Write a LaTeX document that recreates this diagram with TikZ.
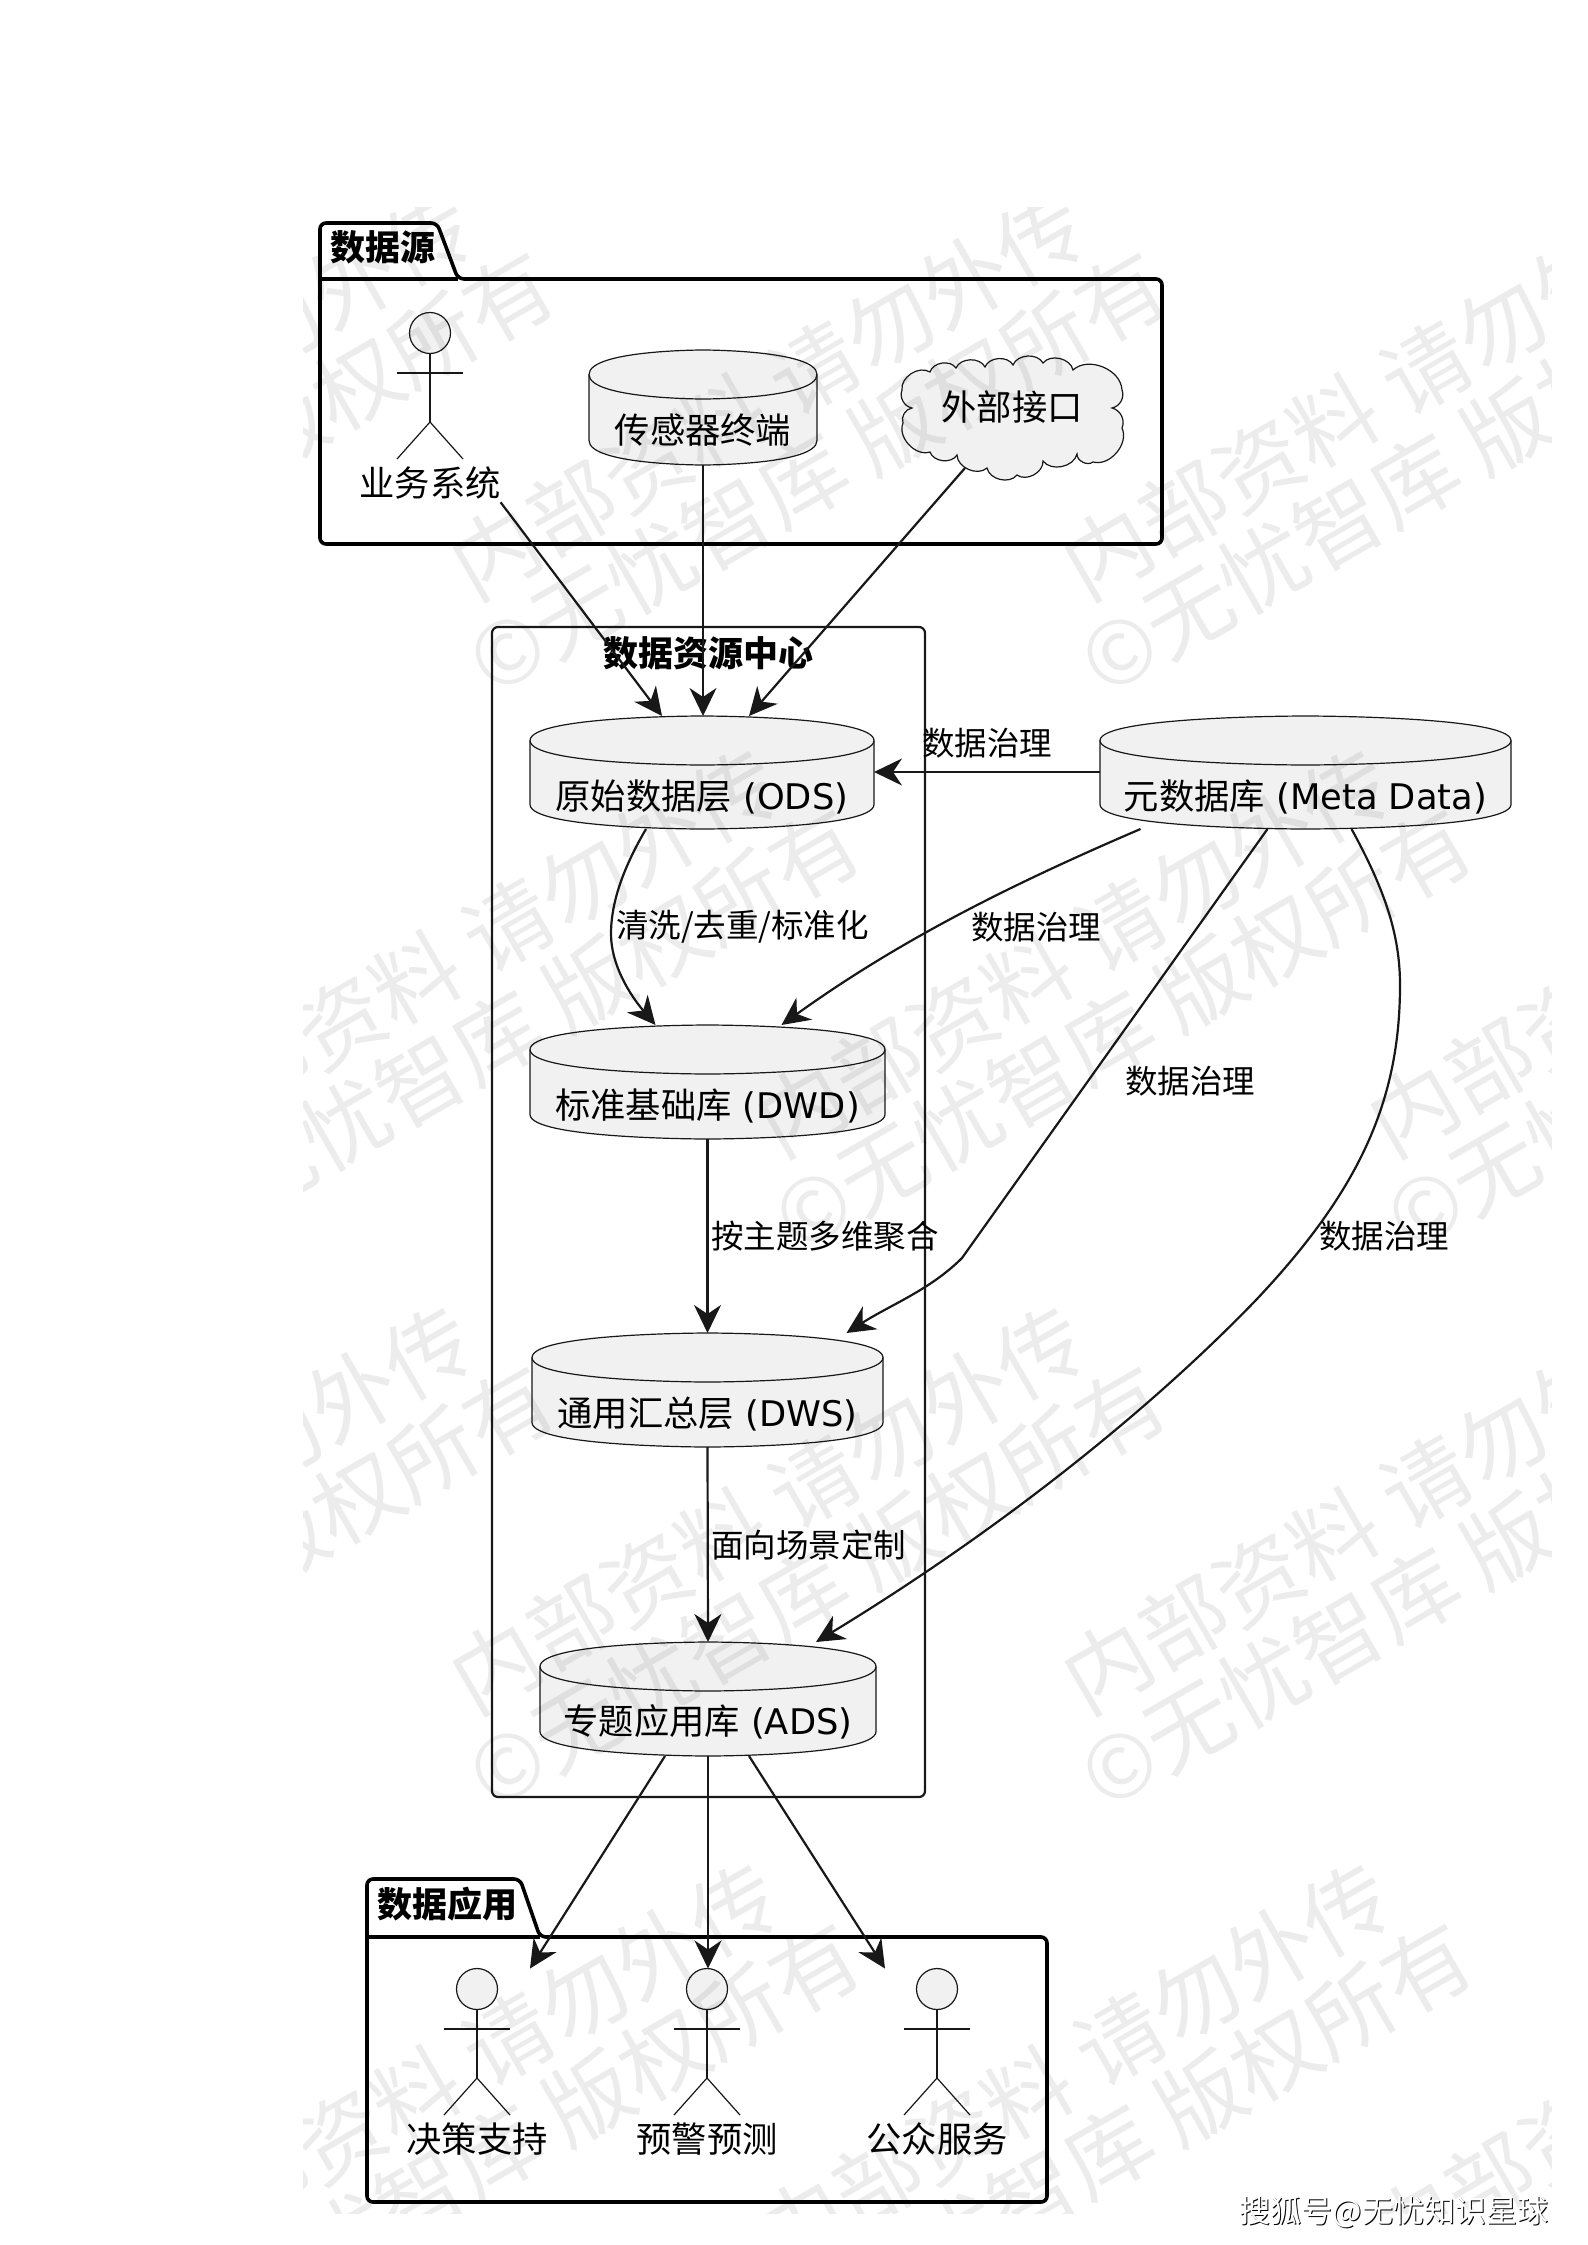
\documentclass[tikz,border=0pt]{standalone}
\usepackage{fontspec}
\setmainfont{DejaVu Sans}
\newfontfamily\cjkf{Noto Sans CJK SC}
\usetikzlibrary{arrows.meta,calc,shapes.geometric}
\definecolor{ink}{HTML}{181818}
\definecolor{dbfill}{HTML}{F1F1F1}
\newcommand\fsz[1]{\fontsize{#1}{#1}\selectfont}
\tikzset{
  every node/.style={inner sep=0pt,outer sep=0pt},
  txt/.style={font=\fsz{35.3},text=black},
  pkgtitle/.style={font=\fsz{35}\bfseries,text=black},
  lbl/.style={font=\fsz{32.5},text=black},
  wm/.style={font=\fsz{87}\cjkf,text=black,opacity=0.075,rotate=30,anchor=base},
  dbline/.style={draw=ink,line width=1.2pt,fill=dbfill},
  holder/.style={draw=none,fill=none,rectangle},
  flow/.style={draw=ink,line width=2.2pt,-{Stealth[length=28pt,width=27pt,inset=9pt]}},
  pkg/.style={draw=black,line width=3.6pt,rounded corners=6pt,line join=round},
  actorline/.style={draw=ink,line width=1.2pt},
  actorhead/.style={ellipse,draw=ink,line width=1.2pt,fill=dbfill,minimum width=41pt,minimum height=41pt},
}
% name, x1, x2, top, bottom, text y, text
\newcommand\dbcyl[7]{%
  \pgfmathsetmacro\xc{(#2+#3)/2}%
  \pgfmathsetmacro\ym{(#4+#5)/2}%
  \pgfmathsetmacro\hh{#5-#4}%
  \pgfmathsetmacro\ww{#3-#2}%
  \pgfmathsetmacro\ya{#4+24.5}%
  \pgfmathsetmacro\yb{#4+49}%
  \pgfmathsetmacro\yc{#5-24.5}%
  \draw[dbline] (#2,\ya) .. controls (#2,#4) and (\xc,#4) .. (\xc,#4) .. controls (\xc,#4) and (#3,#4) .. (#3,\ya)
     -- (#3,\yc) .. controls (#3,#5) and (\xc,#5) .. (\xc,#5) .. controls (\xc,#5) and (#2,#5) .. (#2,\yc) -- cycle;
  \draw[dbline,fill=none] (#2,\ya) .. controls (#2,\yb) and (\xc,\yb) .. (\xc,\yb) .. controls (\xc,\yb) and (#3,\yb) .. (#3,\ya);
  \node[holder,minimum width=\ww pt,minimum height=\hh pt] (#1) at (\xc,\ym) {};
  \node[txt] (#1t) at (\xc,#6) {#7};
}
% name, x, head y, text
\newcommand\actorman[4]{%
  \node[actorhead] (#1) at (#2,#3) {};
  \pgfmathsetmacro\al{#2-33}\pgfmathsetmacro\ar{#2+33}%
  \pgfmathsetmacro\ay{#3+40}\pgfmathsetmacro\as{#3+89}\pgfmathsetmacro\af{#3+126}\pgfmathsetmacro\at{#3+150}%
  \draw[actorline] (#1.south) -- (#2,\as);
  \draw[actorline] (\al,\ay) -- (\ar,\ay);
  \draw[actorline] (\al,\af) -- (#2,\as) -- (\ar,\af);
  \node[txt] (#1t) at (#2,\at) {\cjkf #4};
}
\begin{document}
\begin{tikzpicture}[x=1pt,y=-1pt]
\path[use as bounding box,fill=white] (0,0) rectangle (1587,2245);

% package: data sources
\draw[pkg] (320,279) -- (320,223) -- (437,223) -- (458,279) -- (1162,279) -- (1162,544) -- (320,544) -- cycle;
\draw[black,line width=3.6pt] (320,279) -- (458,279);
\node[pkgtitle] (srcT) at (383,247) {\cjkf 数据源};

% centre frame
\draw[draw=ink,line width=2.2pt,rounded corners=6pt,fill=none] (492,627) rectangle (925,1797);

\actorman{biz}{430}{333}{业务系统}
\dbcyl{sensor}{589}{817}{350}{465}{430}{\cjkf 传感器终端}

% cloud
\draw[dbline] (902,390) to[bend left=65] (930,372) to[bend left=65] (956,368) to[bend left=65] (985,367)
  to[bend left=65] (1013,365) to[bend left=65] (1043,363) to[bend left=65] (1073,370) to[bend left=65] (1122,390)
  to[bend left=50] (1112,408) to[bend left=50] (1122,428) to[bend left=65] (1093,462) to[bend left=65] (1077,454)
  to[bend left=65] (1043,461) to[bend left=65] (1017,475) to[bend left=65] (987,468) to[bend left=65] (957,455)
  to[bend left=65] (930,452) to[bend left=65] (903,423) to[bend left=50] (912,408) to[bend left=50] (902,390) -- cycle;
\node[txt] (ext) at (1012,407) {\cjkf 外部接口};

\node[pkgtitle] (dcT) at (708,653) {\cjkf 数据资源中心};

\dbcyl{ods}{530}{874}{716}{829}{797}{{\cjkf 原始数据层} (ODS)}
\dbcyl{dwd}{530}{885}{1025}{1139}{1106}{{\cjkf 标准基础库} (DWD)}
\dbcyl{dws}{532}{883}{1333}{1447}{1414}{{\cjkf 通用汇总层} (DWS)}
\dbcyl{ads}{540}{876}{1642}{1756}{1722}{{\cjkf 专题应用库} (ADS)}
\dbcyl{meta}{1100}{1511}{716}{829}{797}{{\cjkf 元数据库} (Meta Data)}

% package: applications
\draw[pkg] (367,1937) -- (367,1879) -- (520,1879) -- (540,1937) -- (1047,1937) -- (1047,2202) -- (367,2202) -- cycle;
\draw[black,line width=3.6pt] (367,1937) -- (540,1937);
\node[pkgtitle] (appT) at (447,1904) {\cjkf 数据应用};
\actorman{dec}{477}{1989}{决策支持}
\actorman{warn}{707}{1989}{预警预测}
\actorman{pub}{937}{1989}{公众服务}

% connectors
\draw[flow] (bizt.south east) ++(0,3) -- ([xshift=-40pt]ods.north);
\draw[flow] (sensor.south) -- ([xshift=1pt]ods.north);
\draw[flow] ([xshift=-47pt,yshift=-61pt]ext.center) -- ([xshift=47pt]ods.north);
\draw[flow] ([yshift=-56pt]meta.north west) -- ([yshift=-56pt]ods.north east);
\node[lbl] (l1) at (987,743) {\cjkf 数据治理};

\draw[flow] ([xshift=-56pt]ods.south) .. controls (625,865) and (611,900) .. (611,934) .. controls (611,965) and (630,995) .. ([xshift=-52pt]dwd.north);
\node[lbl,anchor=west] (l2) at (616,927) {\cjkf 清洗/去重/标准化};

\draw[flow] ([xshift=-165pt]meta.south) .. controls (1010,885) and (900,940) .. ([xshift=74pt]dwd.north);
\node[lbl] (l3) at (1036,927) {\cjkf 数据治理};

\draw[flow] ([xshift=-38pt]meta.south) -- (962,1258) .. controls (930,1290) and (890,1305) .. ([xshift=139pt]dws.north);
\node[lbl] (l4) at (1190,1081) {\cjkf 数据治理};

\draw[flow] ([xshift=46pt]meta.south) .. controls (1385,890) and (1400,935) .. (1400,985) .. controls (1400,1100) and (1360,1190) .. (1256,1300) .. controls (1150,1410) and (1000,1530) .. ([xshift=108pt]ads.north);
\node[lbl] (l5) at (1384,1236) {\cjkf 数据治理};

\draw[flow] (dwd.south) -- (dws.north);
\node[lbl,anchor=west] (l6) at (711,1236) {\cjkf 按主题多维聚合};
\draw[flow] (dws.south) -- (ads.north);
\node[lbl,anchor=west] (l7) at (711,1545) {\cjkf 面向场景定制};

\draw[flow] ([xshift=-43pt]ads.south) -- ([xshift=53pt]dec.north);
\draw[flow] (ads.south) -- ([xshift=1pt]warn.north);
\draw[flow] ([xshift=41pt]ads.south) -- ([xshift=-52pt]pub.north);

% watermark
\begin{scope}
\clip (303,208) rectangle (1551,2213);
\foreach \yy/\xo in {423.6/172.5,980.6/-133.5,1537.6/172.5,2094.6/-133.5}{
  \foreach \c in {0,1,2,3}{
    \pgfmathsetmacro\xx{\xo+612*\c}
    \pgfmathsetmacro\xb{\xx+49}
    \pgfmathsetmacro\yb{\yy+77}
    \node[wm,name=wma\c r\yy] at (\xx,\yy) {内部资料 请勿外传};
    \node[wm,name=wmb\c r\yy] at (\xb,\yb) {©无忧智库 版权所有};
  }
}
\end{scope}

% footer
\node[font=\fsz{31}\cjkf,text=black] (fs) at (1395,2213) {搜狐号@无忧知识星球};
\node[font=\fsz{31}\cjkf,text=white] (ft) at (1394,2212) {搜狐号@无忧知识星球};
\end{tikzpicture}
\end{document}
